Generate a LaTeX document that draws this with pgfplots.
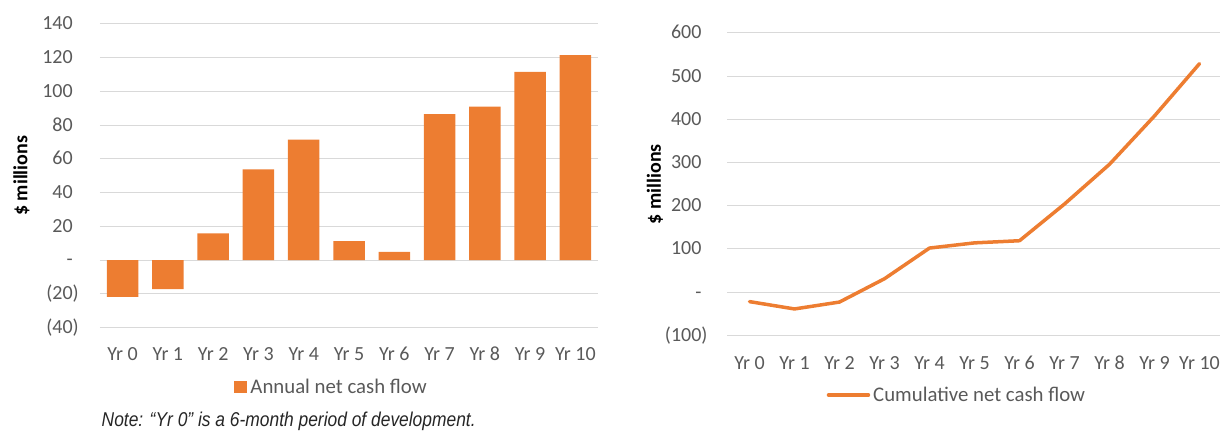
\documentclass[border=0pt]{standalone}
\usepackage{pgfplots}
\pgfplotsset{compat=1.18}
\usepackage{fontspec}
\setmainfont{Carlito}
\newfontfamily\notefont[FakeStretch=0.87]{Liberation Sans}
\definecolor{xlorange}{HTML}{ED7D31}
\definecolor{xlgrid}{HTML}{D9D9D9}
\definecolor{xltext}{HTML}{595959}
\definecolor{xlnote}{HTML}{262626}

\pgfplotsset{
  xlbase/.style={
    scale only axis,
    axis line style={draw=none},
    tick style={draw=none},
    ymajorgrids,
    major grid style={xlgrid, line width=1pt},
    xmin=-0.5, xmax=10.5,
    xtick={0,...,10},
    xticklabels={Yr 0,Yr 1,Yr 2,Yr 3,Yr 4,Yr 5,Yr 6,Yr 7,Yr 8,Yr 9,Yr 10},
    tick label style={font=\fontsize{20}{24}\selectfont, text=xltext, inner sep=0pt},
    yticklabel style={anchor=east},
    xticklabel style={anchor=base},
    ylabel style={font=\bfseries\fontsize{20}{24}\selectfont, text=black},
    legend style={draw=none, fill=none, font=\fontsize{20.8}{24}\selectfont, text=xltext,
      anchor=center, inner sep=0pt, nodes={inner sep=3pt}},
    clip=false,
  }
}

\begin{document}
\begin{tikzpicture}[x=1pt,y=1pt]
\useasboundingbox (0,0) rectangle (1220,431);

% Left: annual net cash flow
\begin{axis}[
  xlbase,
  at={(100pt,103.5pt)}, anchor=south west,
  width=498pt, height=303.5pt,
  ymin=-40, ymax=140,
  ytick={-40,-20,0,20,40,60,80,100,120,140},
  yticklabels={(40),(20),-\phantom{)},20\phantom{)},40\phantom{)},60\phantom{)},80\phantom{)},100\phantom{)},120\phantom{)},140\phantom{)}},
  yticklabel style={xshift=-21pt},
  xticklabel style={yshift=-33pt},
  ylabel={\$ millions},
  ylabel style={at={(rel axis cs:0,0.5)}, anchor=center, rotate=0, xshift=0pt, yshift=78.5pt},
  legend style={at={(0.466,-0.196)}},
  legend image code/.code={\fill[xlorange] (0pt,-6pt) rectangle (13pt,6pt);},
]
\addplot[ybar, bar width=31.5pt, fill=xlorange, draw=none] coordinates {
  (0,-21.8) (1,-17.2) (2,15.8) (3,53.8) (4,71.4) (5,11.3)
  (6,4.9) (7,86.5) (8,91.0) (9,111.6) (10,121.5)
};
\addlegendentry{Annual net cash flow}
\end{axis}

% Right: cumulative net cash flow
\begin{axis}[
  xlbase,
  at={(727pt,95.7pt)}, anchor=south west,
  width=495pt, height=302.3pt,
  ymin=-100, ymax=600,
  ytick={-100,0,100,200,300,400,500,600},
  yticklabels={(100),-\phantom{)},100\phantom{)},200\phantom{)},300\phantom{)},400\phantom{)},500\phantom{)},600\phantom{)}},
  yticklabel style={xshift=-19.3pt},
  xticklabel style={yshift=-33.8pt},
  ylabel={\$ millions},
  ylabel style={at={(rel axis cs:0,0.5)}, anchor=center, xshift=0pt, yshift=72pt},
  legend style={at={(0.4655,-0.1975)}},
  legend image code/.code={\draw[xlorange, line width=3.5pt] (0pt,0pt) -- (40pt,0pt);},
]
\addplot[xlorange, line width=3.5pt, line join=round, line cap=round] coordinates {
  (0,-22) (1,-39) (2,-23) (3,31) (4,102) (5,114)
  (6,119) (7,204) (8,296) (9,408) (10,529)
};
\addlegendentry{Cumulative net cash flow}
\end{axis}

\node[anchor=west, inner sep=0pt, text=xlnote] at (101.5,10)
  {\notefont\itshape\fontsize{20}{24}\selectfont Note: “Yr 0” is a 6-month period of development.};
\end{tikzpicture}
\end{document}
